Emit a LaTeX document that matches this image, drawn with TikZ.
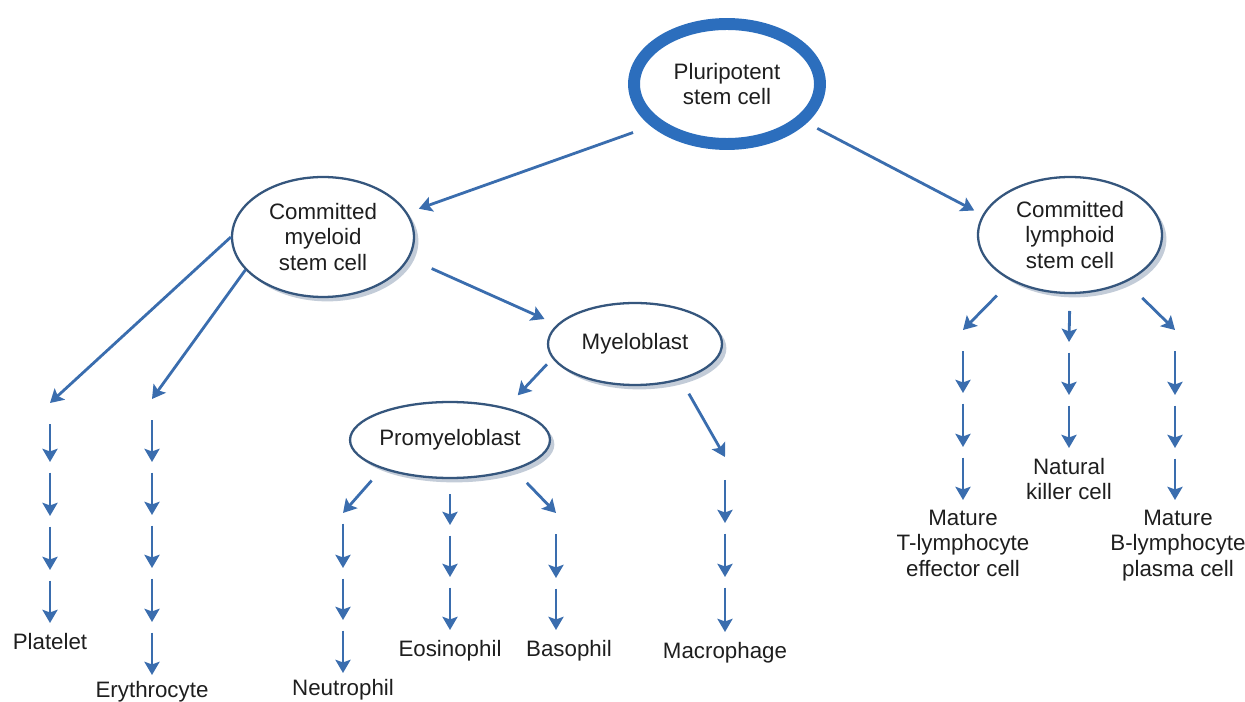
\documentclass[tikz,border=0pt]{standalone}
\usepackage{fontspec}
\setmainfont{Liberation Sans}
\usepackage{tikz}
\usetikzlibrary{arrows.meta, positioning}
\usetikzlibrary{shapes.geometric}
\usetikzlibrary{shadows}
\definecolor{flowblue}{HTML}{3A6DAE}
\definecolor{cellline}{HTML}{35567D}
\definecolor{stemblue}{HTML}{2C6EBD}
\definecolor{cellshadow}{HTML}{B4BFCE}
\definecolor{labeltext}{HTML}{1E1E1E}

\begin{document}
\begin{tikzpicture}[x=0.02cm, y=-0.02cm, >={Stealth[length=7.5pt, width=8.6pt, inset=1.5pt]},
        every node/.style={align=center, text=labeltext, font=\fontsize{12.7}{14.5}\selectfont},
        stem/.style={ellipse, draw=stemblue, line width=6.8pt, fill=white, inner sep=0pt},
        cell/.style={ellipse, draw=cellline, line width=1.3pt, fill=white, inner sep=0pt,
            drop shadow={shadow xshift=2.5pt, shadow yshift=-2.5pt, fill=cellshadow, opacity=.8}},
        flow/.style={->, draw=flowblue, line width=1.6pt},
        hop/.style={flow, shorten <=6pt},
        endcell/.style={inner sep=0pt}]
        \useasboundingbox (0,0) rectangle (1245,702);

        % stem cells and blasts
        \node[stem, minimum width=3.72cm, minimum height=2.4cm] (pluri) at (727,84) {Pluripotent\\stem cell};
        \node[cell, minimum width=3.64cm, minimum height=2.4cm] (myeloid) at (323,237) {Committed\\myeloid\\stem cell};
        \node[cell, minimum width=3.68cm, minimum height=2.32cm] (lymphoid) at (1070,235) {Committed\\lymphoid\\stem cell};
        \node[cell, minimum width=3.48cm, minimum height=1.64cm] (myelo) at (635,344) {Myeloblast};
        \node[cell, minimum width=3.48cm, minimum height=1.52cm] (promyelo) at (450,440) {Promyeloblast};

        % arrow tips of each column
        \coordinate (plt0) at (50,403);
        \coordinate (plt1) at (50,462);
        \coordinate (plt2) at (50,516);
        \coordinate (plt3) at (50,570);
        \coordinate (plt4) at (50,623);
        \coordinate (ery0) at (152,399);
        \coordinate (ery1) at (152,462);
        \coordinate (ery2) at (152,515);
        \coordinate (ery3) at (152,568);
        \coordinate (ery4) at (152,622);
        \coordinate (ery5) at (152,675);
        \coordinate (neu0) at (343,513);
        \coordinate (neu1) at (343,568);
        \coordinate (neu2) at (343,620);
        \coordinate (neu3) at (343,673);
        \coordinate (eos1) at (450,525);
        \coordinate (eos2) at (450,577);
        \coordinate (eos3) at (450,630);
        \coordinate (bas0) at (556,513);
        \coordinate (bas1) at (556,578);
        \coordinate (bas2) at (556,630);
        \coordinate (mac0) at (725,457);
        \coordinate (mac1) at (725,523);
        \coordinate (mac2) at (725,577);
        \coordinate (mac3) at (725,632);
        \coordinate (tc0) at (963,330);
        \coordinate (tc1) at (963,393);
        \coordinate (tc2) at (963,447);
        \coordinate (tc3) at (963,500);
        \coordinate (nk1) at (1069,342);
        \coordinate (nk2) at (1069,395);
        \coordinate (nk3) at (1069,448);
        \coordinate (bc0) at (1175,330);
        \coordinate (bc1) at (1175,395);
        \coordinate (bc2) at (1175,448);
        \coordinate (bc3) at (1175,500);

        % mature cells
        \node[endcell, below=5.5pt of plt4] (platelet) {Platelet};
        \node[endcell, below=3.5pt of ery5] (erythro) {Erythrocyte};
        \node[endcell, below=3.5pt of neu3] (neutro) {Neutrophil};
        \node[endcell, below=5.5pt of eos3] (eosino) {Eosinophil};
        \node[endcell, below=5.5pt of bas2, xshift=0.26cm] (baso) {Basophil};
        \node[endcell, below=5.5pt of mac3] (macro) {Macrophage};
        \node[endcell, below=5.5pt of tc3] (tcell) {Mature\\T-lymphocyte\\effector cell};
        \node[endcell, below=5.5pt of nk3] (nkcell) {Natural\\killer cell};
        \node[endcell, below=5.5pt of bc3, xshift=0.06cm] (bcell) {Mature\\B-lymphocyte\\plasma cell};

        % branches
        \draw[flow, shorten <=10.8pt, shorten >=6.8pt] (pluri.209.4) -- (myeloid.16.9);
        \draw[flow, shorten <=6.7pt, shorten >=5.3pt] (pluri.334.5) -- (lymphoid.167.3);
        \draw[flow] (myeloid.180) -- (plt0);
        \draw[flow] (myeloid.203.7) -- (ery0);
        \draw[flow, shorten <=14pt, shorten >=7.7pt] (myeloid.346.7) -- (myelo.166.7);
        \draw[flow, shorten <=4.5pt, shorten >=9.5pt] (myelo.190.5) -- (promyelo.30.3);
        \draw[flow, shorten <=9pt] (myelo.322.4) -- (mac0);
        \draw[flow, shorten <=8.8pt] (promyelo.203.9) -- (neu0);
        \draw[flow, shorten <=8.5pt] (promyelo.south) -- (eos1);
        \draw[flow, shorten <=10pt] (promyelo.335.6) -- (bas0);
        \draw[flow, shorten <=11.7pt] (lymphoid.218.3) -- (tc0);
        \draw[flow, shorten <=9.6pt] (lymphoid.south) -- (nk1);
        \draw[flow, shorten <=12.8pt] (lymphoid.320.6) -- (bc0);

        % maturation steps
        \draw[hop, shorten <=12pt] (plt0) -- (plt1);
        \draw[hop] (plt1) -- (plt2);
        \draw[hop] (plt2) -- (plt3);
        \draw[hop] (plt3) -- (plt4);
        \draw[hop, shorten <=12pt] (ery0) -- (ery1);
        \draw[hop] (ery1) -- (ery2);
        \draw[hop] (ery2) -- (ery3);
        \draw[hop] (ery3) -- (ery4);
        \draw[hop] (ery4) -- (ery5);
        \draw[hop] (neu0) -- (neu1);
        \draw[hop] (neu1) -- (neu2);
        \draw[hop] (neu2) -- (neu3);
        \draw[hop] (eos1) -- (eos2);
        \draw[hop] (eos2) -- (eos3);
        \draw[hop, shorten <=12pt] (bas0) -- (bas1);
        \draw[hop] (bas1) -- (bas2);
        \draw[hop, shorten <=13pt] (mac0) -- (mac1);
        \draw[hop] (mac1) -- (mac2);
        \draw[hop] (mac2) -- (mac3);
        \draw[hop, shorten <=12pt] (tc0) -- (tc1);
        \draw[hop] (tc1) -- (tc2);
        \draw[hop] (tc2) -- (tc3);
        \draw[hop] (nk1) -- (nk2);
        \draw[hop] (nk2) -- (nk3);
        \draw[hop, shorten <=12pt] (bc0) -- (bc1);
        \draw[hop] (bc1) -- (bc2);
        \draw[hop] (bc2) -- (bc3);
    \end{tikzpicture}
\end{document}
